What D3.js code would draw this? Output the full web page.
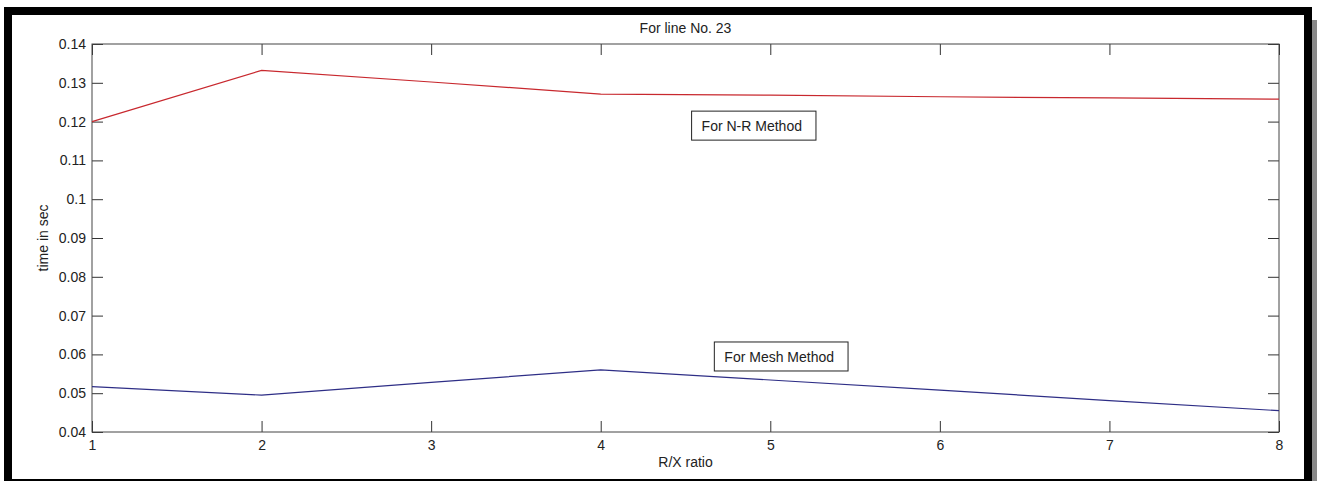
<!DOCTYPE html>
<html>
<head>
<meta charset="utf-8">
<script src="https://cdn.jsdelivr.net/npm/d3@7"></script>
<style>
  body { margin: 0; background: #fff; }
  svg text { font-family: "Liberation Sans", Arial, sans-serif; fill: #222; }
</style>
</head>
<body>
<svg id="chart" width="1321" height="481"></svg>
<script>
(function() {

    var ratios = [1, 2, 3, 4, 5, 6, 7, 8];
    var nrTimes = [0.1200, 0.1332, 0.1302, 0.1271, 0.1268, 0.1264, 0.1261, 0.1258];
    var meshTimes = [0.0517, 0.0495, 0.0528, 0.0560, 0.0534, 0.0508, 0.0481, 0.0455];
    var yTicks = [0.04, 0.05, 0.06, 0.07, 0.08, 0.09, 0.1, 0.11, 0.12, 0.13, 0.14];
    var xTicks = [1, 2, 3, 4, 5, 6, 7, 8];
    // annotation boxes: label, left edge (x value), top edge (y value)
    var noteLabels = ["For N-R Method", "For Mesh Method"];
    var noteX = [4.536, 4.67];
    var noteY = [0.1227, 0.0632];

    var svg = d3.select("#chart"),
        width = +svg.attr("width"),
        height = +svg.attr("height");

    var left = 92, right = 1279, top = 44, bottom = 432;

    // photo frame + shadow
    svg.append("rect")
        .attr("x", 1312).attr("y", 20).attr("width", 5).attr("height", 470)
        .attr("fill", "#888");
    svg.append("rect")
        .attr("x", 8).attr("y", 11).attr("width", 1300).attr("height", 472)
        .attr("fill", "none").attr("stroke", "#000").attr("stroke-width", 8);

    var x = d3.scaleLinear().domain([1, 8]).range([left, right]);
    var y = d3.scaleLinear().domain([0.04, 0.14]).range([bottom, top]);

    var g = svg.append("g");

    function styleAxis(sel) {
        sel.select(".domain").remove();
        sel.selectAll(".tick line").attr("stroke", "#333");
        sel.selectAll(".tick text").attr("font-size", 14).attr("fill", "#222")
            .attr("font-family", "Liberation Sans, Arial, sans-serif");
    }

    g.append("g")
        .attr("transform", "translate(0," + bottom + ")")
        .call(d3.axisBottom(x).tickValues(xTicks).tickSize(-11).tickPadding(5).tickFormat(d3.format("d")))
        .call(styleAxis)
        .selectAll(".tick text").attr("dy", "0.95em");

    g.append("g")
        .attr("transform", "translate(0," + top + ")")
        .call(d3.axisTop(x).tickValues(xTicks).tickSize(-11).tickFormat(""))
        .call(styleAxis);

    g.append("g")
        .attr("transform", "translate(" + left + ",0)")
        .call(d3.axisLeft(y).tickValues(yTicks).tickSize(-11).tickPadding(6).tickFormat(function(d) {
            return d3.format(".2f")(d).replace(/0$/, "");
        }))
        .call(styleAxis);

    g.append("g")
        .attr("transform", "translate(" + right + ",0)")
        .call(d3.axisRight(y).tickValues(yTicks).tickSize(-11).tickFormat(""))
        .call(styleAxis);

    g.append("rect")
        .attr("x", left).attr("y", top)
        .attr("width", right - left).attr("height", bottom - top)
        .attr("fill", "none").attr("stroke", "#444").attr("stroke-width", 1);

    var line = d3.line()
        .x(function(d) { return x(d[0]); })
        .y(function(d) { return y(d[1]); });

    g.append("path")
        .datum(d3.zip(ratios, nrTimes))
        .attr("d", line)
        .attr("fill", "none").attr("stroke", "#c8282e").attr("stroke-width", 1.2);

    g.append("path")
        .datum(d3.zip(ratios, meshTimes))
        .attr("d", line)
        .attr("fill", "none").attr("stroke", "#2e2e86").attr("stroke-width", 1.2);

    // annotation text boxes
    var note = g.selectAll(".note")
        .data(d3.zip(noteLabels, noteX, noteY))
        .enter().append("g")
        .attr("class", "note")
        .attr("transform", function(d) {
            return "translate(" + x(d[1]) + "," + y(d[2]) + ")";
        });

    note.append("text")
        .attr("x", 10).attr("y", 20)
        .attr("font-size", 14)
        .text(function(d) { return d[0]; });

    note.insert("rect", "text")
        .attr("width", function() {
            return this.parentNode.querySelector("text").getComputedTextLength() + 24;
        })
        .attr("height", 29)
        .attr("fill", "#fff").attr("stroke", "#222").attr("stroke-width", 1);

    svg.append("text")
        .attr("x", (left + right) / 2).attr("y", 33)
        .attr("text-anchor", "middle").attr("font-size", 14)
        .text("For line No. 23");

    svg.append("text")
        .attr("x", (left + right) / 2).attr("y", 467)
        .attr("text-anchor", "middle").attr("font-size", 14)
        .text("R/X ratio");

    svg.append("text")
        .attr("transform", "translate(48," + (top + bottom) / 2 + ") rotate(-90)")
        .attr("text-anchor", "middle").attr("font-size", 14)
        .text("time in sec");

})();
</script>
</body>
</html>
